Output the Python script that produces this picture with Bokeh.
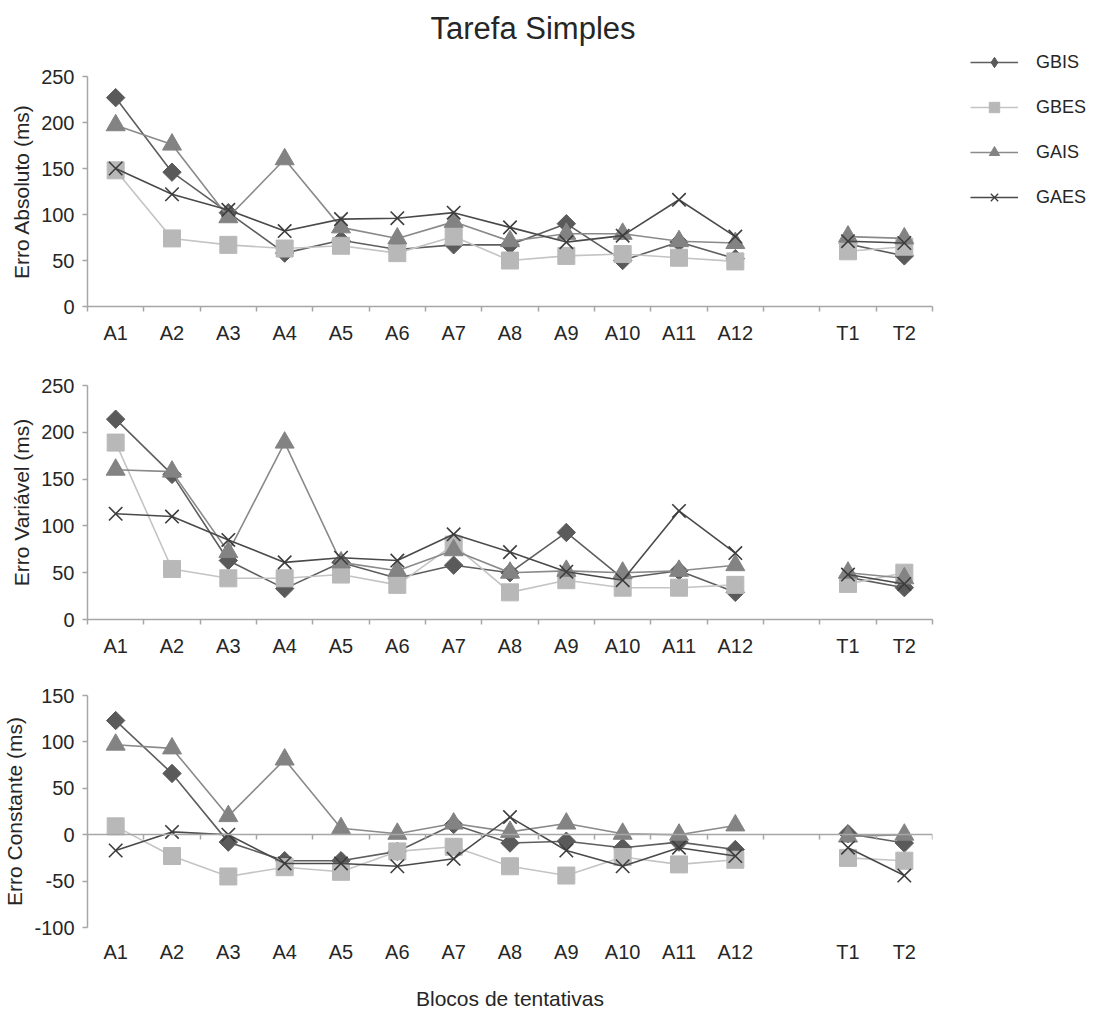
import math
from bokeh.plotting import figure
from bokeh.layouts import column, row
from bokeh.models import Range1d, FixedTicker, LinearAxis, Legend, LegendItem, Label
from bokeh.embed import file_html
from bokeh.resources import INLINE

# ---------------- data ----------------
title_text = "Tarefa Simples"
x_title = "Blocos de tentativas"
blocks = ["A1", "A2", "A3", "A4", "A5", "A6", "A7", "A8", "A9", "A10", "A11", "A12", "T1", "T2"]
slots = blocks[:12] + [""] + blocks[12:]          # empty slot between A12 and T1
groups = ["GBIS", "GBES", "GAIS", "GAES"]

# Erro Absoluto (ms)
abs_gbis = [227, 146, 102, 58, 72, 62, 67, 67, 90, 50, 70, 52, 68, 55]
abs_gbes = [148, 74, 67, 63, 66, 58, 76, 50, 55, 57, 53, 49, 60, 65]
abs_gais = [197, 176, 97, 160, 86, 74, 92, 71, 79, 79, 71, 69, 76, 74]
abs_gaes = [150, 122, 105, 82, 95, 96, 102, 86, 70, 77, 116, 76, 71, 69]
abs_ticks = [0, 50, 100, 150, 200, 250]
abs_tick_labels = ["0", "50", "100", "150", "200", "250"]

# Erro Variável (ms)
var_gbis = [214, 155, 63, 33, 61, 44, 58, 50, 93, 44, 52, 29, 45, 34]
var_gbes = [189, 54, 44, 44, 48, 37, 80, 29, 42, 34, 34, 37, 38, 50]
var_gais = [160, 158, 72, 189, 61, 52, 74, 50, 52, 50, 52, 58, 50, 44]
var_gaes = [113, 110, 85, 61, 66, 63, 91, 72, 51, 42, 116, 71, 48, 38]
var_ticks = [0, 50, 100, 150, 200, 250]
var_tick_labels = ["0", "50", "100", "150", "200", "250"]

# Erro Constante (ms)
ce_gbis = [123, 66, -8, -28, -28, -18, 11, -9, -7, -14, -8, -16, 1, -9]
ce_gbes = [9, -23, -45, -35, -40, -18, -13, -34, -44, -24, -32, -27, -25, -28]
ce_gais = [97, 93, 20, 81, 7, 1, 12, 3, 12, 1, 0, 10, -2, 0]
ce_gaes = [-17, 3, 0, -31, -31, -34, -26, 19, -17, -34, -14, -23, -14, -44]
ce_ticks = [-100, -50, 0, 50, 100, 150]
ce_tick_labels = ["-100", "-50", "0", "50", "100", "150"]

# ---------------- style ----------------
FONT = "Liberation Sans"
TXT = "#262626"
AX = "#a6a6a6"
STYLE = {
    "GBIS": dict(marker="square", legend_marker="diamond", angle=math.pi / 4, size=13,
                 fill="#5a5a5a", mline="#5a5a5a", lc="#5e5e5e"),
    "GBES": dict(marker="square", legend_marker="square", angle=0.0, size=17,
                 fill="#b8b8b8", mline="#b8b8b8", lc="#c4c4c4"),
    "GAIS": dict(marker="triangle", legend_marker="triangle", angle=0.0, size=19,
                 fill="#838383", mline="#838383", lc="#8a8a8a"),
    "GAES": dict(marker="x", legend_marker="x", angle=0.0, size=19,
                 fill=None, mline="#3c3c3c", lc="#4a4a4a"),
}
TOTAL_W = 1093
FRAME_L = 86
FRAME_R = 932
MAIN_W = FRAME_R + 4
LEG_W = TOTAL_W - MAIN_W
TITLE_H = 50

xpos = [slots.index(b) + 1 for b in blocks]
bounds = [i + 0.5 for i in range(len(slots) + 1)]
labels = {x: b for x, b in zip(xpos, blocks)}


def line_xy(vals):
    lx, ly = [], []
    prev = None
    for x, v in zip(xpos, vals):
        if prev is not None and x - prev > 1:
            lx.append(float("nan"))
            ly.append(float("nan"))
        lx.append(x)
        ly.append(v)
        prev = x
    return lx, ly


def make_panel(series, yticks, ytick_labels, ylabel, height, top, bottom,
               zero_axis=False, xlabel=None):
    p = figure(width=MAIN_W, height=height,
               x_range=Range1d(0.5, len(slots) + 0.5),
               y_range=Range1d(yticks[0], yticks[-1]),
               output_backend="svg", toolbar_location=None,
               min_border_left=FRAME_L, min_border_right=MAIN_W - FRAME_R,
               min_border_top=top, min_border_bottom=bottom)
    p.outline_line_color = None
    p.xgrid.visible = False
    p.ygrid.visible = False
    p.background_fill_color = "white"
    p.border_fill_color = "white"

    for g, vals in zip(groups, series):
        st = STYLE[g]
        lx, ly = line_xy(vals)
        p.line(lx, ly, line_color=st["lc"], line_width=1.6)
        p.scatter(xpos, vals, marker=st["marker"], angle=st["angle"], size=st["size"],
                  fill_color=st["fill"], line_color=st["mline"],
                  line_width=1.6 if st["marker"] == "x" else 1)

    xa = p.xaxis[0]
    xa.ticker = FixedTicker(ticks=xpos, minor_ticks=bounds)
    xa.major_label_overrides = labels
    xa.major_tick_in = 0
    xa.major_tick_out = 0
    xa.major_label_text_font = FONT
    xa.major_label_text_font_size = "20px"
    xa.major_label_text_color = TXT
    if zero_axis:
        xa.axis_line_color = None
        xa.minor_tick_line_color = None
        xa.major_label_standoff = 9
        za = LinearAxis(fixed_location=0, ticker=FixedTicker(ticks=[], minor_ticks=bounds),
                        axis_line_color=AX, axis_line_width=1.5,
                        major_tick_line_color=None, minor_tick_in=0, minor_tick_out=5,
                        minor_tick_line_color=AX, minor_tick_line_width=1.5,
                        major_label_text_font_size="0px")
        p.add_layout(za, "below")
    else:
        xa.axis_line_color = AX
        xa.axis_line_width = 1.5
        xa.minor_tick_in = 0
        xa.minor_tick_out = 5
        xa.minor_tick_line_color = AX
        xa.minor_tick_line_width = 1.5
        xa.major_label_standoff = 10
    if xlabel:
        xa.axis_label = xlabel
        xa.axis_label_text_font = FONT
        xa.axis_label_text_font_size = "21px"
        xa.axis_label_text_font_style = "normal"
        xa.axis_label_text_color = TXT
        xa.axis_label_standoff = 21

    ya = p.yaxis[0]
    ya.ticker = FixedTicker(ticks=yticks)
    ya.major_label_overrides = {t: s for t, s in zip(yticks, ytick_labels)}
    ya.axis_line_color = AX
    ya.axis_line_width = 1.5
    ya.major_tick_line_color = AX
    ya.major_tick_line_width = 1.5
    ya.major_tick_in = 0
    ya.major_tick_out = 5
    ya.minor_tick_line_color = None
    ya.major_label_text_font = FONT
    ya.major_label_text_font_size = "20px"
    ya.major_label_text_color = TXT
    ya.major_label_standoff = 8
    ya.axis_label = ylabel
    ya.axis_label_text_font = FONT
    ya.axis_label_text_font_size = "21px"
    ya.axis_label_text_font_style = "normal"
    ya.axis_label_text_color = TXT
    ya.axis_label_standoff = 5
    return p


# ---------------- title strip ----------------
pt = figure(width=TOTAL_W, height=TITLE_H, x_range=Range1d(0, 1), y_range=Range1d(0, 1),
            output_backend="svg", toolbar_location=None, min_border=0,
            x_axis_location=None, y_axis_location=None)
pt.outline_line_color = None
pt.xgrid.visible = False
pt.ygrid.visible = False
pt.add_layout(Label(x=430, y=TITLE_H - 28, x_units="screen", y_units="screen",
                    text=title_text, text_align="left", text_baseline="middle",
                    text_font=FONT, text_font_size="31px", text_color=TXT))

p1 = make_panel([abs_gbis, abs_gbes, abs_gais, abs_gaes], abs_ticks, abs_tick_labels,
                "Erro Absoluto (ms)", height=360 - TITLE_H, top=76 - TITLE_H, bottom=54)
p2 = make_panel([var_gbis, var_gbes, var_gais, var_gaes], var_ticks, var_tick_labels,
                "Erro Variável (ms)", height=310, top=25, bottom=51)
p3 = make_panel([ce_gbis, ce_gbes, ce_gais, ce_gaes], ce_ticks, ce_tick_labels,
                "Erro Constante (ms)", height=342, top=25, bottom=81,
                zero_axis=True, xlabel=x_title)

# ---------------- legend (own small canvas to the right of the first panel) ----------------
pl = figure(width=LEG_W, height=360 - TITLE_H, x_range=Range1d(0, 1), y_range=Range1d(0, 1),
            output_backend="svg", toolbar_location=None, min_border=0,
            x_axis_location=None, y_axis_location=None)
pl.outline_line_color = None
pl.xgrid.visible = False
pl.ygrid.visible = False
items = []
for g, vals in zip(groups, [abs_gbis, abs_gbes, abs_gais, abs_gaes]):
    st = STYLE[g]
    lr = pl.line(xpos, vals, line_color=st["lc"], line_width=1.6, visible=False)
    sr = pl.scatter(xpos, vals, marker=st["legend_marker"], size=st["size"],
                    fill_color=st["fill"], line_color=st["mline"],
                    line_width=1.3 if st["marker"] == "x" else 1, visible=False)
    items.append(LegendItem(label=g, renderers=[lr, sr]))
legend = Legend(items=items, location=(970 - MAIN_W, 150), orientation="vertical",
                glyph_width=48, glyph_height=26, label_height=24, spacing=19,
                label_standoff=18, padding=0, margin=0,
                border_line_color=None, background_fill_alpha=0,
                inactive_fill_alpha=0, click_policy="none",
                label_text_font=FONT, label_text_font_size="18px", label_text_color=TXT)
pl.add_layout(legend)

layout = column(pt, row(column(p1, p2, p3, spacing=0), pl, spacing=0), spacing=0)
open("out.html", "w").write(file_html(layout, INLINE))
